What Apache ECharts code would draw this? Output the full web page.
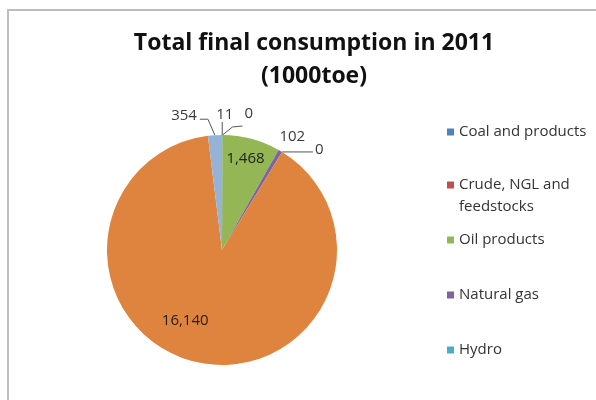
<!DOCTYPE html>
<html><head><meta charset="utf-8">
<script src="https://cdn.jsdelivr.net/npm/echarts@6/dist/echarts.min.js"></script>
<style>html,body{margin:0;padding:0;background:#fff}#c{width:596px;height:400px}</style>
</head><body><div id="c"></div>
<script>
const categories = ["Coal and products","Crude, NGL and feedstocks","Oil products","Natural gas","Hydro","Biofuels and waste","Electricity"];
const values = [11, 0, 1468, 102, 0, 16140, 354];
const colors = ["#4F81BD","#C0504D","#94B655","#7F62A0","#4BACC6","#DF843E","#95B3D7"];
const legendNames = categories.slice(0,5);
const legendTops = [116, 147, 224, 279, 334];

// label placement tweaks (style only), relative to the slice's outer edge point
const outsideTweaks = {
  0: {line:[[0,-13],[0,-13]], lx:2.5, ly:-20, align:'center'},
  1: {line:[[10,-8],[20,-9]], lx:22, ly:-21, align:'left'},
  3: {line:[[0,0],[0,0]], lx:12, ly:-14, align:'center'},
  4: {line:[[15,0],[31,0]], lx:33, ly:-2, align:'left'},
  6: {line:[[-7,-16],[-15,-16]], lx:-18, ly:-19, align:'right'}
};
const insideTweaks = {2:{dx:8, dy:-33}, 5:{dx:-24, dy:12}};

const chart = echarts.init(document.getElementById('c'));
const font = '"Open Sans", sans-serif';
const data = categories.map((n,i)=>({
  name:n, value:values[i],
  itemStyle:{color:colors[i]},
  label: insideTweaks[i] ? {position:'inside', color:'#222'} : {position:'outside'},
  labelLine: insideTweaks[i] ? {show:false} : {show:true}
}));
chart.setOption({
  animation:false,
  title:{text:'Total final consumption in 2011\n(1000toe)', left:309, textAlign:'center', top:22,
    textStyle:{fontFamily:font, fontWeight:'bold', fontSize:23, lineHeight:33, color:'#111'}},
  graphic:[{type:'rect', shape:{x:8,y:10,width:700,height:500}, style:{fill:'none', stroke:'#bdbdbd', lineWidth:2}}],
  legend: legendNames.map((n,i)=>({
    data:[n], orient:'vertical', left:442, top:legendTops[i], icon:'rect', itemWidth:7, itemHeight:7, itemGap:6,
    formatter: s => s === "Crude, NGL and feedstocks" ? "\nCrude, NGL and\nfeedstocks" : s,
    textStyle:{fontFamily:font, fontSize:15, color:'#333', lineHeight:22}
  })),
  series:[{
    type:'pie', radius:115, center:[222,250], startAngle:90, clockwise:true,
    avoidLabelOverlap:false, minAngle:0.01,
    itemStyle:{borderWidth:0},
    label:{fontFamily:font, fontSize:15, color:'#3a3a3a', formatter: p => p.value.toLocaleString('en-US')},
    labelLine:{length:14, length2:10, lineStyle:{color:'#555', width:1}},
    labelLayout: function(p){
      const i = p.dataIndex;
      if (insideTweaks[i]) return {dx: insideTweaks[i].dx, dy: insideTweaks[i].dy};
      const t = outsideTweaks[i];
      const pts = p.labelLinePoints;
      if (!t || !pts) return {};
      const e = pts[0];
      return {
        x: e[0] + t.lx, y: e[1] + t.ly, align: t.align, verticalAlign:'middle',
        labelLinePoints: [[e[0],e[1]], [e[0]+t.line[0][0], e[1]+t.line[0][1]], [e[0]+t.line[1][0], e[1]+t.line[1][1]]]
      };
    },
    data:data
  }]
});
</script></body></html>
